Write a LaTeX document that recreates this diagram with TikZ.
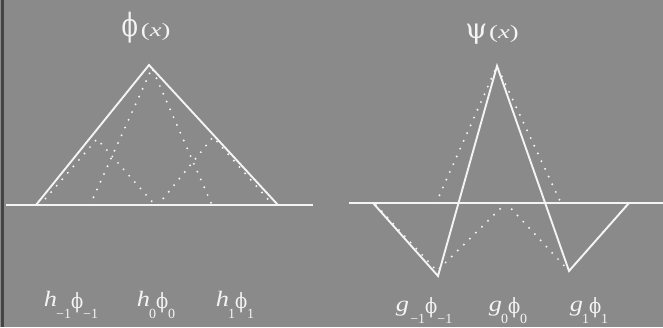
\documentclass[tikz,border=0pt]{standalone}
\usepackage{graphicx}
\usepackage{fontspec}
\setmainfont{Liberation Serif}
\newfontfamily\grk{DejaVu Serif}
\definecolor{bgc}{HTML}{8A8A8A}
\definecolor{fgc}{HTML}{F4F4F4}
\definecolor{edgec}{HTML}{444444}
\newcommand\lsub[1]{\raisebox{-0.55em}{\fontsize{14}{14}\selectfont #1}}
\newcommand\gphi{{\grk\fontsize{21}{21}\selectfont\raisebox{-0.12em}{\scalebox{0.85}[1]{ϕ}}}}
\newcommand\lblh{\scalebox{1.2}[1]{\textit{h}}\kern-1pt}
\newcommand\lblg{\scalebox{1.2}[1]{\textit{g}}\kern-1pt}
\newcommand\lblx{{\fontsize{19}{19}\selectfont\scalebox{1.4}[1]{(\textit{x})}}}
\begin{document}
\begin{tikzpicture}[x=1pt,y=-1pt,
  solidline/.style={draw=fgc, line width=1.9pt, line join=miter},
  dotline/.style={draw=fgc, line width=2.2pt, line cap=round, dash pattern=on 0pt off 8.5pt},
  axisline/.style={draw=fgc, line width=1.2pt},
  lbl/.style={text=fgc, inner sep=0pt, anchor=base, font=\fontsize{22}{22}\selectfont},
  ttl/.style={text=fgc, inner sep=0pt, anchor=base}]
\fill[bgc] (0,0) rectangle (663,327);
\useasboundingbox (0,0) rectangle (663,327);
\fill[edgec] (1,0) rectangle (4,327);

% left panel
\coordinate (la0) at (6,205);
\coordinate (la1) at (313,205);
\coordinate (lb0) at (36,205);
\coordinate (ltop) at (149,65);
\coordinate (lb1) at (278,205);
\coordinate (d1a) at (40,205);
\coordinate (d1t) at (97,139);
\coordinate (d1b) at (155,205);
\coordinate (d2a) at (90,205);
\coordinate (d2t) at (152,68);
\coordinate (d2b) at (212,205);
\coordinate (d3a) at (158,205);
\coordinate (d3t) at (213,137);
\coordinate (d3b) at (273,205);
\draw[axisline] (la0) -- (la1);
\draw[dotline] (d1a) -- (d1t) -- (d1b);
\draw[dotline] (d2a) -- (d2t) -- (d2b);
\draw[dotline] (d3a) -- (d3t) -- (d3b);
\draw[solidline] (lb0) -- (ltop) -- (lb1);

% right panel
\coordinate (ra0) at (349,203);
\coordinate (ra1) at (663,203);
\coordinate (r1) at (373,203);
\coordinate (r2) at (438,276);
\coordinate (r3) at (497,66);
\coordinate (r4) at (569,271);
\coordinate (r5) at (629,203);
\coordinate (e1a) at (436,203);
\coordinate (e1t) at (497,66);
\coordinate (e1b) at (561,203);
\coordinate (e2a) at (376,205);
\coordinate (e2t) at (437,271);
\coordinate (e2b) at (506,203);
\coordinate (e3a) at (506,203);
\coordinate (e3t) at (569,271);
\coordinate (e3b) at (627,205);
\draw[axisline] (ra0) -- (ra1);
\draw[dotline] (e1a) -- (e1t) -- (e1b);
\draw[dotline] (e2a) -- (e2t) -- (e2b);
\draw[dotline] (e3a) -- (e3t) -- (e3b);
\draw[solidline] (r1) -- (r2) -- (r3) -- (r4) -- (r5);

% titles
\node[ttl] (tphi) at (146,36) {{\grk\fontsize{32}{32}\selectfont\scalebox{0.75}[1]{ϕ}}\hspace{3pt}\lblx};
\node[ttl] (tpsi) at (492,38) {{\grk\fontsize{28}{28}\selectfont ψ}\hspace{2pt}\lblx};

% bottom labels
\node[lbl] (h1) at (71,306) {\lblh\lsub{−1}\gphi\lsub{−1}};
\node[lbl] (h2) at (156,306) {\lblh\lsub{0}\gphi\lsub{0}};
\node[lbl] (h3) at (235,306) {\lblh\lsub{1}\gphi\lsub{1}};
\node[lbl] (g1) at (424,311) {\lblg\lsub{\,−1}\gphi\lsub{−1}};
\node[lbl] (g2) at (508,311) {\lblg\lsub{0}\gphi\lsub{0}};
\node[lbl] (g3) at (589,311) {\lblg\lsub{1}\gphi\lsub{1}};
\end{tikzpicture}
\end{document}
